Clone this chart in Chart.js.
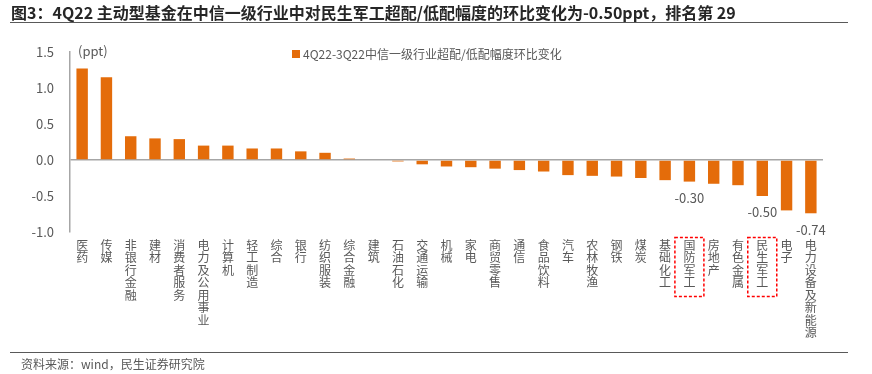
<!DOCTYPE html>
<html>
<head>
<meta charset="utf-8">
<script src="https://cdn.jsdelivr.net/npm/chart.js@4"></script>
<style>
  body { margin: 0; background: #fff; font-family: 'Noto Sans CJK SC', 'Noto Sans', sans-serif; }
  #wrap { position: relative; width: 872px; height: 374px; overflow: hidden; }
  #chart { position: absolute; left: 0; top: 0; }
  #title { position: absolute; left: 11px; top: 2px; font-size: 16px; font-weight: bold; color: #262626; white-space: nowrap; line-height: 20px; }
  .rule { position: absolute; left: 10px; width: 838px; height: 0; border-top: 1.5px solid #595959; }
  #source { position: absolute; left: 21px; top: 355px; font-size: 12px; color: #595959; line-height: 18px; white-space: nowrap; }
</style>
</head>
<body>
<div id="wrap">
  <canvas id="chart" width="872" height="374"></canvas>
  <div id="title">图3：4Q22 主动型基金在中信一级行业中对民生军工超配/低配幅度的环比变化为-0.50ppt，排名第 29</div>
  <div class="rule" style="top:22px"></div>
  <div class="rule" style="top:352px"></div>
  <div id="source">资料来源：wind，民生证券研究院</div>
</div>
<script>
// 4Q22-3Q22 change in over/under-weight, ppt
const categories = ['医药', '传媒', '非银行金融', '建材', '消费者服务', '电力及公用事业', '计算机', '轻工制造', '综合', '银行',
  '纺织服装', '综合金融', '建筑', '石油石化', '交通运输', '机械', '家电', '商贸零售', '通信', '食品饮料',
  '汽车', '农林牧渔', '钢铁', '煤炭', '基础化工', '国防军工', '房地产', '有色金属', '民生军工', '电子', '电力设备及新能源']
const values = [1.27, 1.15, 0.33, 0.30, 0.29, 0.20, 0.20, 0.16, 0.16, 0.12,
  0.10, 0.02, 0.00, -0.02, -0.06, -0.09, -0.10, -0.12, -0.14, -0.16,
  -0.21, -0.22, -0.23, -0.25, -0.28, -0.30, -0.33, -0.35, -0.50, -0.70, -0.74]
const yTicks = [1.5, 1.0, 0.5, 0.0, -0.5, -1.0]
const labelled = ['国防军工', '民生军工', '电力设备及新能源']
const boxed = ['国防军工', '民生军工']
const seriesName = '4Q22-3Q22中信一级行业超配/低配幅度环比变化'

const orange = '#e46c0a',
  grey = '#595959',
  fontFamily = "'Noto Sans CJK SC', 'Noto Sans', sans-serif"

const extras = {
  id: 'extras',
  afterDatasetsDraw(chart) {
    const { ctx, chartArea } = chart,
      x = chart.scales.x,
      y = chart.scales.y
    ctx.save()
    ctx.font = '13px ' + fontFamily
    ctx.fillStyle = grey
    ctx.textAlign = 'center'
    ctx.textBaseline = 'middle'
    labelled.forEach(name => {
      const i = categories.indexOf(name)
      ctx.fillText(values[i].toFixed(2), x.getPixelForValue(i), y.getPixelForValue(values[i]) + 16.5)
    })

    // unit and legend
    ctx.textAlign = 'left'
    ctx.fillText('(ppt)', 78, 51)
    ctx.fillStyle = orange
    ctx.fillRect(292, 50, 8, 8)
    ctx.font = '12px ' + fontFamily
    ctx.fillStyle = grey
    ctx.fillText(seriesName, 303, 54)

    // red dashed boxes round the military labels
    ctx.strokeStyle = '#ff0000'
    ctx.lineWidth = 1.5
    ctx.setLineDash([3, 2])
    boxed.forEach(name => {
      const cx = x.getPixelForValue(categories.indexOf(name))
      ctx.strokeRect(cx - 14.5, chartArea.bottom + 5.5, 29, 59)
    })
    ctx.restore()
  }
}

new Chart(document.getElementById('chart'), {
  type: 'bar',
  data: {
    labels: categories.map(c => c.split('')),
    datasets: [{
      label: seriesName,
      data: values,
      backgroundColor: orange,
      barPercentage: 0.47,
      categoryPercentage: 1
    }]
  },
  options: {
    responsive: false,
    animation: false,
    layout: { padding: { top: 52, right: 49, bottom: 24, left: 0 } },
    plugins: { legend: { display: false }, tooltip: { enabled: false } },
    scales: {
      x: {
        grid: { display: false, drawTicks: false },
        border: { display: false },
        ticks: {
          autoSkip: false,
          maxRotation: 0,
          minRotation: 0,
          padding: 7,
          color: grey,
          font: { family: fontFamily, size: 12, lineHeight: 1.04 }
        },
        afterFit(scale) { scale.height = 118 }
      },
      y: {
        min: -1,
        max: 1.5,
        afterBuildTicks(scale) { scale.ticks = yTicks.map(v => ({ value: v })) },
        grid: {
          drawTicks: false,
          color: c => (c.tick && c.tick.value === 0 ? '#a6a6a6' : 'rgba(0,0,0,0)'),
          lineWidth: 1.5
        },
        border: { display: true, color: '#a6a6a6', width: 1.5 },
        ticks: {
          padding: 16,
          color: grey,
          font: { family: fontFamily, size: 13 },
          callback: v => v.toFixed(1)
        },
        afterFit(scale) { scale.width = 70 }
      }
    }
  },
  plugins: [extras]
})
</script>
</body>
</html>
